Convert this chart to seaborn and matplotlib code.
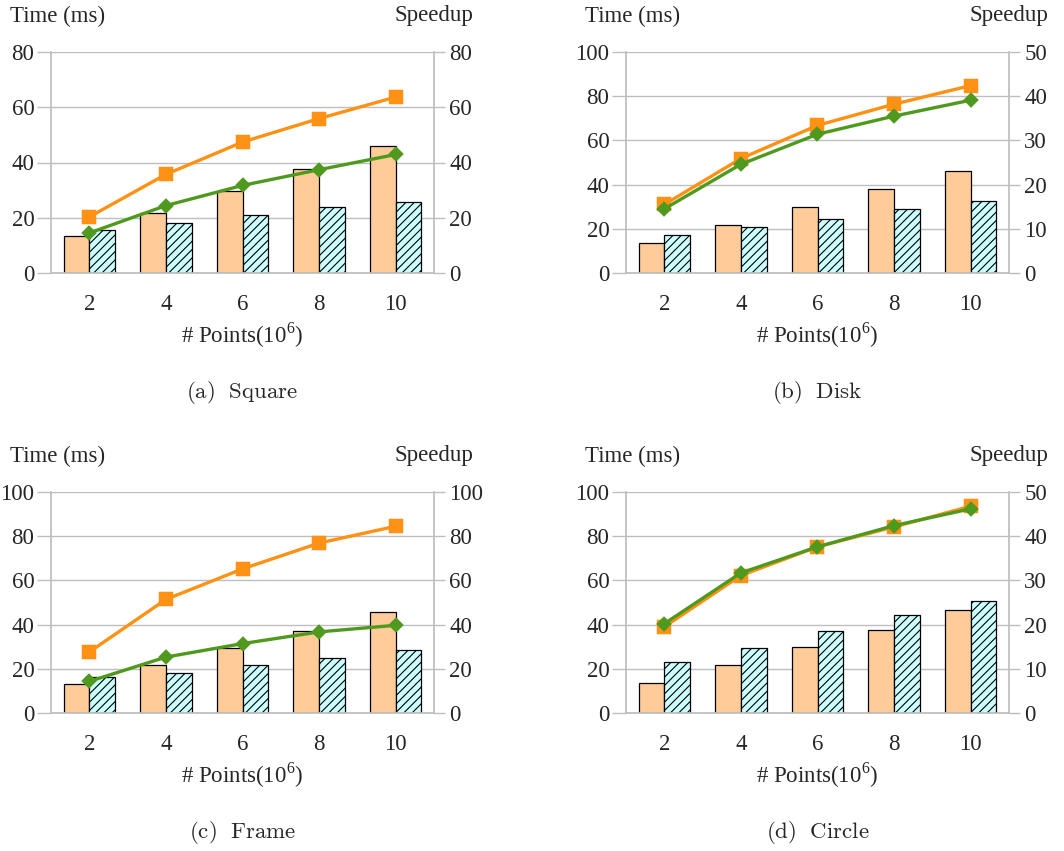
import matplotlib.pyplot as plt
import pandas as pd
import seaborn as sns

sns.set_theme(style="white")
plt.rcParams["font.family"] = ["Liberation Serif", "DejaVu Serif"]
plt.rcParams["mathtext.fontset"] = "custom"
plt.rcParams["mathtext.rm"] = "Liberation Serif"
plt.rcParams["hatch.linewidth"] = 0.8

# data
POINTS = ["2", "4", "6", "8", "10"]

square_seq = [13.3, 21.7, 29.7, 37.8, 46.0]
square_par = [15.7, 18.2, 20.9, 23.9, 25.8]
square_speed_a = [20.3, 35.7, 47.4, 55.9, 63.7]
square_speed_b = [14.5, 24.4, 31.7, 37.4, 42.9]

disk_seq = [13.6, 21.7, 29.9, 38.0, 46.3]
disk_par = [17.3, 20.8, 24.4, 28.8, 32.7]
disk_speed_a = [15.5, 25.9, 33.4, 38.2, 42.4]
disk_speed_b = [14.5, 24.6, 31.4, 35.5, 39.1]

frame_seq = [13.0, 21.7, 29.6, 37.3, 45.9]
frame_par = [16.3, 18.3, 21.9, 25.0, 28.7]
frame_speed_a = [27.6, 51.4, 65.2, 76.9, 84.5]
frame_speed_b = [14.3, 25.3, 31.4, 36.7, 39.7]

circle_seq = [13.6, 21.7, 29.9, 37.7, 46.5]
circle_par = [22.9, 29.6, 37.3, 44.3, 50.7]
circle_speed_a = [19.5, 31.1, 37.6, 42.1, 46.8]
circle_speed_b = [20.2, 31.7, 37.6, 42.4, 46.2]

PEACH = "#FFCC99"
CYAN = "#CCFFFF"
ORANGE = "#FF9214"
GREEN = "#4F9A1E"
GRAY = "#BEBEBE"

W, H = 1064, 851
fig = plt.figure(figsize=(W / 100, H / 100), dpi=100)


def draw_panel(left, top, seq, par, sp_a, sp_b, lmax, lstep, rmax, rstep, caption):
    right, bottom = left + 383, top + 221
    ax = fig.add_axes([left / W, 1 - bottom / H, (right - left) / W, (bottom - top) / H])
    df = pd.DataFrame({"points": POINTS * 2, "time": seq + par,
                       "impl": ["seq"] * len(POINTS) + ["par"] * len(POINTS)})
    sns.barplot(data=df, x="points", y="time", hue="impl", palette=[PEACH, CYAN],
                width=0.67, gap=0, edgecolor="black", linewidth=0.9,
                saturation=1, legend=False, ax=ax)
    for bar in ax.containers[1]:
        bar.set_hatch("////")
    ax.set_axisbelow(True)
    ax.yaxis.grid(True, color=GRAY, linewidth=1)
    ax.set_ylim(0, lmax)
    ax.set_yticks(range(0, lmax + 1, lstep))
    ax.set_xlabel("")
    ax.set_ylabel("")

    ax2 = ax.twinx()
    sns.pointplot(x=POINTS, y=sp_a, color=ORANGE, markers="s", markersize=8.5,
                  linewidth=2.4, errorbar=None, ax=ax2)
    sns.pointplot(x=POINTS, y=sp_b, color=GREEN, markers="D", markersize=6.5,
                  linewidth=2.4, errorbar=None, ax=ax2)
    ax2.set_ylim(0, rmax)
    ax2.set_yticks(range(0, rmax + 1, rstep))
    ax2.set_xlim(-0.5, len(POINTS) - 0.5)

    ax.set_xticks(range(len(POINTS)))
    ax.set_xticklabels(POINTS)
    ax.set_xticks([i - 0.5 for i in range(len(POINTS) + 1)], minor=True)
    ax.tick_params(axis="x", which="major", length=0, pad=15, labelsize=16.5)
    ax.tick_params(axis="x", which="minor", length=6, width=1, color=GRAY, direction="out")
    ax.tick_params(axis="y", length=10, width=1, color=GRAY, direction="out",
                   labelsize=16.5, pad=2, left=True)
    ax2.tick_params(axis="y", length=8, width=1, color=GRAY, direction="out",
                    labelsize=16.5, pad=3, right=True)
    for name, sp in ax.spines.items():
        sp.set_visible(name in ("left", "bottom"))
        sp.set_color(GRAY)
    for name, sp in ax2.spines.items():
        sp.set_visible(name == "right")
        sp.set_color(GRAY)

    fig.text((left - 41) / W, 1 - (top - 36) / H, "Time (ms)", fontsize=16.5,
             ha="left", va="center")
    fig.text((right + 39) / W, 1 - (top - 37) / H, "Speedup", fontsize=16.5,
             ha="right", va="center")
    fig.text((left + right) / 2 / W, 1 - (bottom + 62) / H, r"# Points(10$^{\mathrm{6}}$)",
             fontsize=16.5, ha="center", va="center")
    fig.text((left + right) / 2 / W, 1 - (bottom + 120) / H, caption, fontsize=16.5,
             math_fontfamily="cm", ha="center", va="center")


draw_panel(51, 52, square_seq, square_par, square_speed_a, square_speed_b,
           80, 20, 80, 20, r"$\mathrm{(a)\ \ Square}$")
draw_panel(626, 52, disk_seq, disk_par, disk_speed_a, disk_speed_b,
           100, 20, 50, 10, r"$\mathrm{(b)\ \ Disk}$")
draw_panel(51, 492, frame_seq, frame_par, frame_speed_a, frame_speed_b,
           100, 20, 100, 20, r"$\mathrm{(c)\ \ Frame}$")
draw_panel(626, 492, circle_seq, circle_par, circle_speed_a, circle_speed_b,
           100, 20, 50, 10, r"$\mathrm{(d)\ \ Circle}$")

fig.savefig("out.png", dpi=100, facecolor="white")
